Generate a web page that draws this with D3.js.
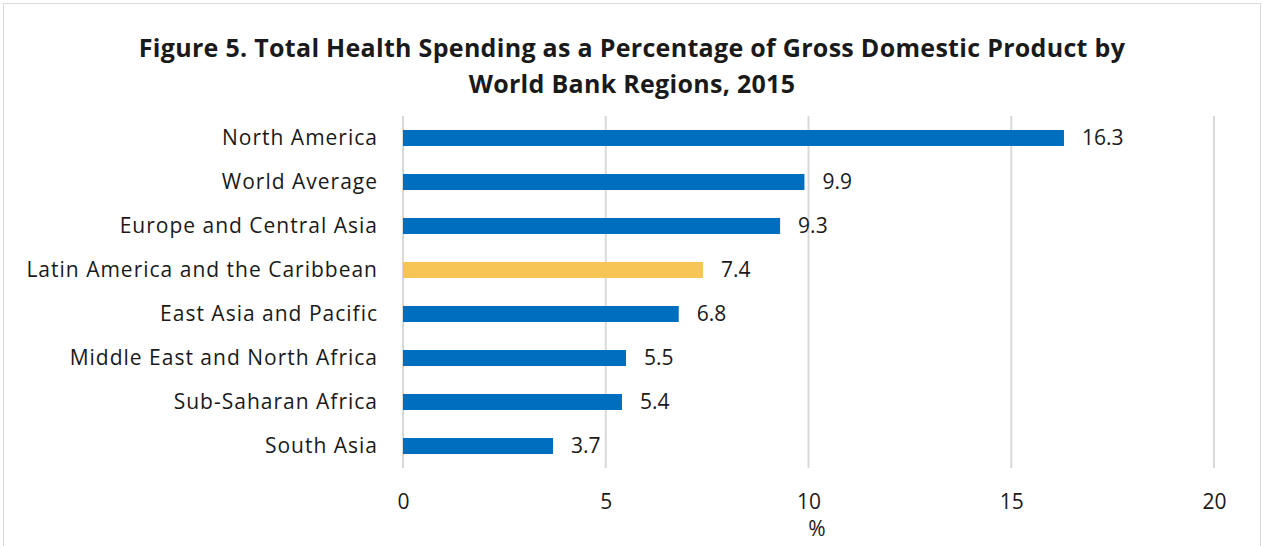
<!DOCTYPE html>
<html lang="en">
<head>
<meta charset="utf-8">
<title>Figure 5</title>
<script src="https://d3js.org/d3.v7.min.js"></script>
<style>
    body { margin: 0; background: #fff; }
    text { font-family: "Open Sans", Lato, sans-serif; fill: #1a1a1a; }
</style>
</head>
<body>
<svg id="chart"></svg>
<script>
    var regions = ["North America", "World Average", "Europe and Central Asia",
        "Latin America and the Caribbean", "East Asia and Pacific",
        "Middle East and North Africa", "Sub-Saharan Africa", "South Asia"];
    var spending = [16.3, 9.9, 9.3, 7.4, 6.8, 5.5, 5.4, 3.7];
    var highlight = ["Latin America and the Caribbean"];
    var xTicks = [0, 5, 10, 15, 20];

    var width = 1262, height = 546;
    var svg = d3.select("#chart").attr("width", width).attr("height", height);

    // outer frame
    svg.append("rect")
        .attr("x", 3.5).attr("y", 3.5)
        .attr("width", width - 5).attr("height", height - 2)
        .attr("fill", "none").attr("stroke", "#d9d9d9");

    svg.append("text")
        .attr("x", 632).attr("y", 57)
        .attr("text-anchor", "middle")
        .style("font-size", "25px").style("font-weight", "bold")
        .style("letter-spacing", "0.3px")
        .text("Figure 5. Total Health Spending as a Percentage of Gross Domestic Product by");
    svg.append("text")
        .attr("x", 632).attr("y", 93)
        .attr("text-anchor", "middle")
        .style("font-size", "25px").style("font-weight", "bold")
        .style("letter-spacing", "0.3px")
        .text("World Bank Regions, 2015");

    var x = d3.scaleLinear().domain([0, 20]).range([403, 1214]);
    var y = d3.scaleBand().domain(regions).range([116, 468]).paddingInner(0.636).paddingOuter(0.318);

    // gridlines
    svg.append("g").selectAll("line")
        .data(xTicks)
        .join("line")
        .attr("x1", function(d) { return x(d); })
        .attr("x2", function(d) { return x(d); })
        .attr("y1", 116).attr("y2", 468)
        .attr("stroke", "#d9d9d9").attr("stroke-width", 2);

    var xAxis = svg.append("g")
        .attr("transform", "translate(0,494)")
        .call(d3.axisBottom(x).tickValues(xTicks).tickSize(0).tickPadding(0));
    xAxis.select(".domain").remove();
    xAxis.selectAll("text")
        .attr("dy", "0.71em")
        .style("font-size", "21px")
        .attr("fill", "#1a1a1a");

    svg.append("text")
        .attr("x", 817).attr("y", 536)
        .attr("text-anchor", "middle")
        .style("font-size", "21px")
        .text("%");

    var yAxis = svg.append("g")
        .attr("transform", "translate(403,0)")
        .call(d3.axisLeft(y).tickSize(0).tickPadding(25));
    yAxis.select(".domain").remove();
    yAxis.selectAll("text")
        .style("font-size", "21px")
        .style("letter-spacing", "1px")
        .attr("fill", "#1a1a1a");

    svg.append("g").selectAll("rect")
        .data(regions)
        .join("rect")
        .attr("x", x(0))
        .attr("y", function(d) { return y(d); })
        .attr("width", function(d, i) { return x(spending[i]) - x(0); })
        .attr("height", y.bandwidth())
        .attr("fill", function(d) { return highlight.indexOf(d) >= 0 ? "#F6C555" : "#006EBE"; });

    svg.append("g").selectAll("text")
        .data(regions)
        .join("text")
        .attr("x", function(d, i) { return x(spending[i]) + 18; })
        .attr("y", function(d) { return y(d) + y.bandwidth() / 2; })
        .attr("dy", "0.35em")
        .style("font-size", "21px")
        .text(function(d, i) { return spending[i]; });
</script>
</body>
</html>
